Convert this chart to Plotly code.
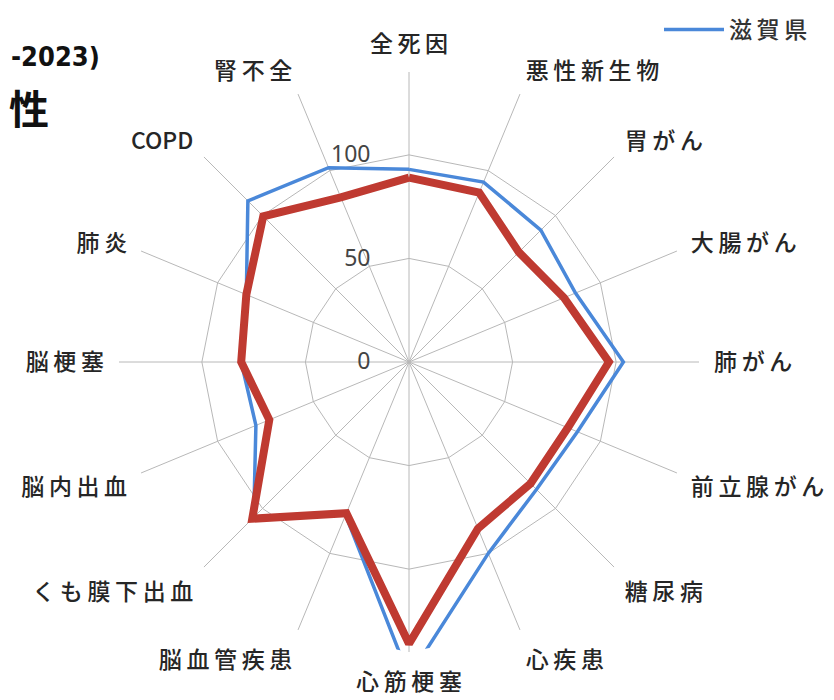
import plotly.graph_objects as go

categories = ["全死因", "悪性新生物", "胃がん", "大腸がん", "肺がん", "前立腺がん", "糖尿病", "心疾患",
              "心筋梗塞", "脳血管疾患", "くも膜下出血", "脳内出血", "脳梗塞", "肺炎", "COPD", "腎不全"]
shiga = [93, 94, 90, 87, 103.5, 88, 87, 100, 152, 80, 106, 80, 81, 85, 110, 101.5]
area = [89, 88.5, 75, 81, 96.5, 83, 83, 87, 136, 79, 107, 73, 81, 85, 99.5, 86]
radial_ticks = [0, 50, 100]


def spaced(s):
    # wide letter spacing like the original labels (Latin text kept as is)
    if s.isascii():
        return s
    return "\u2009".join(s)


W, H = 834, 700
OFF = 8  # page body margin
cx, cy, R = 409 - OFF, 362 - OFF, 290

fig = go.Figure()
fig.add_trace(go.Scatterpolar(
    r=shiga + shiga[:1], theta=categories + categories[:1], mode="lines",
    name=spaced("滋賀県"), line=dict(color="#4A88D9", width=3.5), showlegend=True))
fig.add_trace(go.Scatterpolar(
    r=area + area[:1], theta=categories + categories[:1], mode="lines",
    name="対象", line=dict(color="#BF3A31", width=8), showlegend=False))

fig.update_layout(
    width=W, height=H,
    margin=dict(l=0, r=0, t=0, b=0),
    paper_bgcolor="white", plot_bgcolor="white",
    font=dict(family="Noto Sans CJK JP", color="#222"),
    polar=dict(
        domain=dict(x=[(cx - R) / W, (cx + R) / W], y=[(H - cy - R) / H, (H - cy + R) / H]),
        bgcolor="white",
        gridshape="linear",
        angularaxis=dict(
            direction="clockwise", rotation=90, type="category",
            categoryorder="array", categoryarray=categories,
            tickmode="array", tickvals=categories, ticktext=[spaced(c) for c in categories],
            showline=False, gridcolor="#b8b8b8", gridwidth=1.3,
            ticks="outside", ticklen=10, tickcolor="rgba(0,0,0,0)",
            tickfont=dict(size=23, color="#262626", family="Noto Sans CJK JP", weight=500),
        ),
        radialaxis=dict(
            range=[0, 140], tickvals=radial_ticks, ticktext=[str(v) for v in radial_ticks],
            angle=90, tickangle=90, side="counterclockwise",
            showline=False, gridcolor="#b8b8b8", gridwidth=1.3,
            ticks="outside", ticklen=30, tickcolor="rgba(0,0,0,0)",
            tickfont=dict(size=23, color="#444", family="Noto Sans"),
        ),
    ),
    legend=dict(x=651 / W, y=1.0, xanchor="left", yanchor="top",
                font=dict(size=23, color="#333", family="Noto Sans CJK JP", weight=500),
                bgcolor="rgba(0,0,0,0)", itemwidth=60),
    annotations=[
        dict(text="<b>-2023)</b>", x=1 / W, y=1 - (56 - OFF) / H, xref="paper", yref="paper",
             xanchor="left", yanchor="middle", showarrow=False,
             font=dict(size=27, color="#111", family="DejaVu Sans Condensed, DejaVu Sans, sans-serif")),
        dict(text="<b>性</b>", x=(51 - OFF) / W, y=1 - (107 - OFF) / H, xref="paper", yref="paper",
             xanchor="right", yanchor="middle", showarrow=False,
             font=dict(size=40, color="#111", family="Noto Sans CJK JP")),
    ],
)

fig.write_html("out.html")
